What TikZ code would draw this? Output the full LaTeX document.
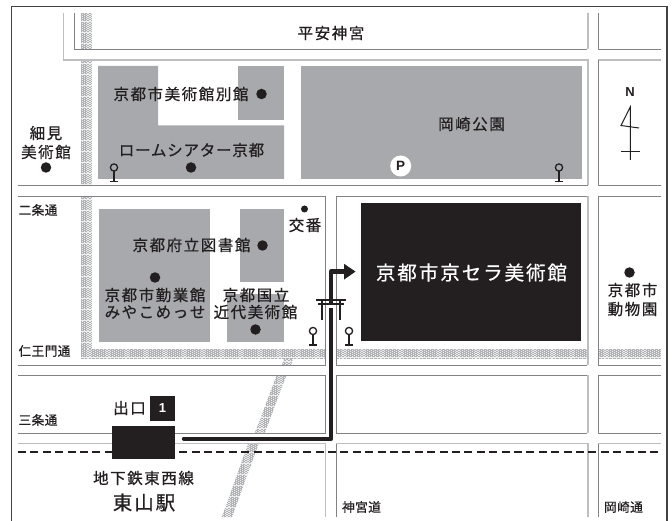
\documentclass[tikz,border=0pt]{standalone}
\usepackage{fontspec}
\setsansfont{Liberation Sans}
\newfontfamily\jplab[LetterSpace=10,FakeBold=0.6]{Noto Sans CJK JP}
\newfontfamily\jpkana[LetterSpace=5,FakeBold=0.6]{Noto Sans CJK JP}
\newfontfamily\jpsmall[LetterSpace=3,FakeBold=0.5]{Noto Sans CJK JP}
\definecolor{blockgrey}{HTML}{A7A9AC}
\definecolor{inkblack}{HTML}{231F20}
\definecolor{roaddark}{HTML}{808285}
\definecolor{roadlight}{HTML}{BCBEC0}
\definecolor{hatchbg}{HTML}{EFEFF0}
\definecolor{hatchink}{HTML}{B0B2B5}
\tikzset{
  lab/.style={inner sep=0pt,text=inkblack,font=\jplab\fontsize{15.5}{15.5}\selectfont},
  kana/.style={inner sep=0pt,text=inkblack,font=\jpkana\fontsize{15.5}{15.5}\selectfont},
  big/.style={inner sep=0pt,text=inkblack,font=\jplab\fontsize{19.5}{19.5}\selectfont},
  bigwhite/.style={inner sep=0pt,text=white,font=\jplab\fontsize{19.5}{19.5}\selectfont},
  road/.style={inner sep=0pt,text=inkblack,font=\jpsmall\fontsize{12.7}{12.7}\selectfont},
  dk/.style={draw=roaddark,line width=0.9pt},
  lt/.style={draw=roadlight,line width=1.3pt},
  spot/.style={circle,fill=inkblack,inner sep=0pt,minimum size=10.5pt},
  routeline/.style={draw=inkblack,line width=4.4pt},
  pinstyle/.style={draw=inkblack,line width=1.3pt},
  hatchrow/.style={draw=hatchink,line width=0.5pt,dash pattern=on 2.6pt off 1.2pt}
}
\newcommand{\hatchzone}[5]{% clip path, xmin, xmax, ymin, ymax
  \begin{scope}
    \clip #1;
    \fill[hatchbg] (#2,#4) rectangle (#3,#5);
    \pgfmathsetmacro{\ysecond}{#4+2.2}
    \foreach \yy in {#4,\ysecond,...,#5} {
      \draw[hatchrow] (#2,\yy) -- (#3,\yy);
      \draw[hatchrow,dash phase=1.9pt] (#2,\yy+1.1) -- (#3,\yy+1.1);
    }
  \end{scope}}
\newcommand{\pinmark}[2]{%
  \draw[pinstyle] (#1,#2) circle (3.6);
  \draw[pinstyle] (#1,#2+3.6) -- (#1,#2+14);
  \draw[pinstyle,line width=1.7pt] (#1-4,#2+14) -- (#1+4,#2+14);}
\begin{document}
\begin{tikzpicture}[x=1pt,y=-1pt]
\useasboundingbox (0,0) rectangle (672,521);
\fill[white] (0,0) rectangle (672,521);
% hatched strips
\hatchzone{(81,13) rectangle (92,49.5)}{81}{92}{13}{49.5}
\hatchzone{(81,60.5) rectangle (92,185)}{81}{92}{60.5}{185}
\hatchzone{(81,196.5) rectangle (92,358.5)}{81}{92}{196.5}{358.5}
\hatchzone{(81,349) rectangle (325,358.5)}{81}{325}{349}{358.5}
\hatchzone{(336,349) rectangle (588,358.5)}{336}{588}{349}{358.5}
\hatchzone{(598,349) rectangle (661,358.5)}{598}{661}{349}{358.5}
\hatchzone{(284,358.5) -- (293,358.5) -- (291,365) -- (282,365) -- cycle}{280}{295}{358.5}{365}
\hatchzone{(276.5,376) -- (286,376) -- (265,432.5) -- (255,432.5) -- cycle}{253}{288}{376}{432.5}
\hatchzone{(248,444) -- (258.5,444) -- (232,517) -- (222,517) -- cycle}{220}{260}{444}{517}
% frame
\draw[draw=inkblack!85,line width=1.1pt] (11.5,521) -- (11.5,6.5) -- (667,6.5) -- (667,521);
% streets: top row
\draw[lt] (63.5,13) -- (63.5,60) -- (588,60) -- (588,185);
\draw[dk] (18,185.3) -- (588,185.3);
\draw[dk] (74.2,13) -- (74.2,49.5) -- (587,49.5);
\draw[lt] (588,13) -- (588,49.5);
\draw[dk] (598.3,13) -- (598.3,49.5) -- (661,49.5);
\draw[lt] (598.3,60) -- (661,60);
\draw[dk] (661,185.3) -- (598.3,185.3) -- (598.3,60);
% third row
\draw[dk] (18,196.3) -- (325.5,196.3) -- (325.5,365.3) -- (18,365.3);
\draw[dk] (336.3,365.3) -- (336.3,196.3) -- (587,196.3);
\draw[lt] (588,196.3) -- (588,365.3);
\draw[dk] (336.3,365.3) -- (587,365.3);
\draw[dk] (661,196.3) -- (598.3,196.3) -- (598.3,365.3) -- (661,365.3);
% fourth row
\draw[dk] (18,375.3) -- (325.5,375.3) -- (325.5,433.3) -- (18,433.3);
\draw[dk] (336.3,433.3) -- (336.3,375.3) -- (587,375.3);
\draw[lt] (588,375.3) -- (588,433.3);
\draw[dk] (336.3,433.3) -- (587,433.3);
\draw[dk] (661,375.3) -- (598.3,375.3) -- (598.3,433.3) -- (661,433.3);
% fifth row
\draw[lt] (18,443.5) -- (325.5,443.5);
\draw[roadlight,line width=1.1pt] (325.5,443.5) -- (325.5,517);
\draw[dk] (336.3,517) -- (336.3,443.5);
\draw[lt] (336.3,443.5) -- (588,443.5) -- (588,517);
\draw[dk] (598.3,517) -- (598.3,443.5);
\draw[lt] (598.3,443.5) -- (661,443.5);
% subway dashes
\draw[inkblack,line width=1.2pt,dash pattern=on 8pt off 4.4pt] (18,452) -- (661,452);
% grey blocks
\fill[blockgrey] (98,66) -- (158,66) -- (158,125.5) -- (284,125.5) -- (284,179) -- (98,179) -- cycle;
\fill[blockgrey] (238,66) rectangle (284,120);
\fill[blockgrey] (301,66) rectangle (582,179);
\fill[blockgrey] (99,209) rectangle (210,342);
\fill[blockgrey] (240,209) rectangle (284,282);
\fill[blockgrey] (227,294) rectangle (284,342);
% museum and exit
\node[fill=inkblack,minimum width=220pt,minimum height=138pt,inner sep=0pt] (museum) at (471,272) {};
\node[fill=inkblack,minimum width=63pt,minimum height=33.5pt,inner sep=0pt] (exit) at (143.5,442.5) {};
\node[fill=inkblack,minimum size=25pt,inner sep=0pt,text=white,font=\sffamily\bfseries\fontsize{13}{13}\selectfont] (exitnum) at (162.5,408.5) {1};
% route
\coordinate (routestart) at (184,438.8);
\coordinate (routecorner) at (331,438.8);
\coordinate (routetop) at (331,271.6);
\coordinate (routeend) at (346,271.6);
\draw[routeline,line cap=round,line join=round] (routestart) -- (routecorner) -- (routetop) -- (routeend);
\fill[inkblack] (344,263.8) -- (355.5,271.6) -- (344,279.6) -- cycle;
% torii
\fill[white] (326,305.5) rectangle (336,308.5);
\draw[inkblack,line width=1.7pt] (316,300) -- (346,300);
\draw[inkblack,line width=1.7pt] (318,304) -- (344,304);
\draw[inkblack,line width=1.7pt] (321.8,300) -- (321.8,320);
\draw[inkblack,line width=1.7pt] (340,300) -- (340,320);
% pins
\pinmark{114}{167.5}
\pinmark{559}{167.5}
\pinmark{313}{331}
\pinmark{349}{331}
% spots
\node[spot] (s1) at (261.5,94) {};
\node[spot] (s2) at (191,167.5) {};
\node[spot] (s3) at (46,167.5) {};
\node[spot] (s4) at (262.5,245.5) {};
\node[spot] (s5) at (155,277.5) {};
\node[spot] (s6) at (255.5,329.5) {};
\node[spot,minimum size=7pt] (s7) at (304.5,209) {};
\node[spot] (s8) at (629.5,272.5) {};
% parking
\node[circle,fill=white,minimum size=21pt,inner sep=0pt,text=inkblack,font=\sffamily\bfseries\fontsize{13.5}{13.5}\selectfont] (park) at (400.7,166) {P};
% north
\node[inner sep=0pt,text=inkblack,font=\sffamily\bfseries\fontsize{13}{13}\selectfont] (north) at (630,92) {N};
\draw[inkblack,line width=1pt,line join=miter] (630.3,160) -- (630.3,107) -- (621,125.5) -- (639,128);
\draw[inkblack,line width=1pt] (621,152) -- (639.5,152);
% labels
\node[lab] (t1) at (331,33) {平安神宮};
\node[lab] (t2) at (181,94) {京都市美術館別館};
\node[kana] (t3) at (191.5,150) {ロームシアター京都};
\node[lab] (t4) at (471.5,124) {岡崎公園};
\node[lab] (t5) at (46,133) {細見};
\node[lab] (t6) at (46,152) {美術館};
\node[road] (t7) at (38,210) {二条通};
\node[lab] (t8) at (305,225) {交番};
\node[lab] (t9) at (191.5,245) {京都府立図書館};
\node[lab] (t10) at (155,295) {京都市勤業館};
\node[lab] (t11) at (155,312) {みやこめっせ};
\node[lab] (t12) at (256,295) {京都国立};
\node[lab] (t13) at (255.5,312) {近代美術館};
\node[bigwhite] (t14) at (471.5,272.5) {京都市京セラ美術館};
\node[lab] (t15) at (632.5,290) {京都市};
\node[lab] (t16) at (632.5,309) {動物園};
\node[road] (t17) at (44.5,351) {仁王門通};
\node[road] (t18) at (38,420) {三条通};
\node[lab] (t19) at (129.5,408) {出口};
\node[lab] (t20) at (143.5,478) {地下鉄東西線};
\node[big] (t21) at (144,502.5) {東山駅};
\node[road] (t22) at (361.5,507) {神宮道};
\node[road] (t23) at (623.5,507) {岡崎通};
\end{tikzpicture}
\end{document}
